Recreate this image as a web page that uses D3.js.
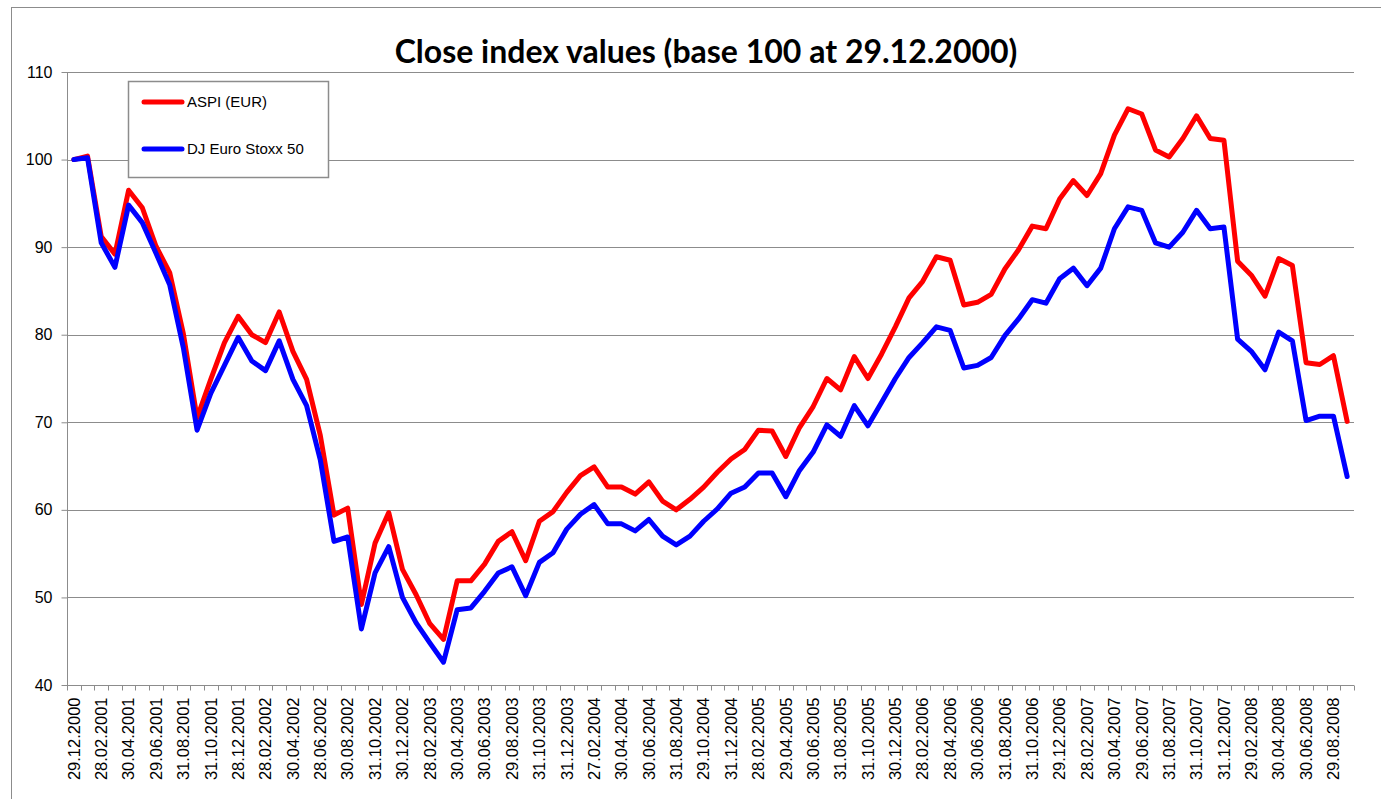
<!DOCTYPE html>
<html>
<head>
<meta charset="utf-8">
<script src="https://cdn.jsdelivr.net/npm/d3@7"></script>
<style>
  html, body { margin: 0; padding: 0; background: #fff; }
  svg { display: block; }
</style>
</head>
<body>
<svg id="chart" width="1381" height="799"></svg>
<script>
const dates = [
  "29.12.2000",
  "31.01.2001","28.02.2001","30.03.2001","30.04.2001","31.05.2001","29.06.2001","31.07.2001","31.08.2001","28.09.2001","31.10.2001","30.11.2001","28.12.2001",
  "31.01.2002","28.02.2002","29.03.2002","30.04.2002","31.05.2002","28.06.2002","31.07.2002","30.08.2002","30.09.2002","31.10.2002","29.11.2002","30.12.2002",
  "31.01.2003","28.02.2003","31.03.2003","30.04.2003","30.05.2003","30.06.2003","31.07.2003","29.08.2003","30.09.2003","31.10.2003","28.11.2003","31.12.2003",
  "30.01.2004","27.02.2004","31.03.2004","30.04.2004","31.05.2004","30.06.2004","30.07.2004","31.08.2004","30.09.2004","29.10.2004","30.11.2004","31.12.2004",
  "31.01.2005","28.02.2005","31.03.2005","29.04.2005","31.05.2005","30.06.2005","29.07.2005","31.08.2005","30.09.2005","31.10.2005","30.11.2005","30.12.2005",
  "31.01.2006","28.02.2006","31.03.2006","28.04.2006","31.05.2006","30.06.2006","31.07.2006","31.08.2006","29.09.2006","31.10.2006","30.11.2006","29.12.2006",
  "31.01.2007","28.02.2007","30.03.2007","30.04.2007","31.05.2007","29.06.2007","31.07.2007","31.08.2007","28.09.2007","31.10.2007","30.11.2007","31.12.2007",
  "31.01.2008","29.02.2008","31.03.2008","30.04.2008","30.05.2008","30.06.2008","31.07.2008","29.08.2008","30.09.2008"
];

const aspi = [
  100, 100.4, 91.2, 89.2, 96.5, 94.5, 90.1, 87.1, 80.1, 70.5, 74.9, 79.1, 82.1, 80.0, 79.1, 82.6, 78.1, 74.9, 68.5, 59.4, 60.2, 49.2, 56.2, 59.7,
  53.2, 50.3, 47.0, 45.2, 51.9, 51.9, 53.8, 56.4, 57.5, 54.2, 58.7, 59.8, 62.0, 63.9, 64.9, 62.6, 62.6, 61.8, 63.2, 61.0, 60.0, 61.2, 62.6,
  64.3, 65.8, 66.9, 69.1, 69.0, 66.1, 69.4, 71.8, 75.0, 73.7, 77.5, 75.0, 77.8, 80.9, 84.2, 86.1, 88.9, 88.5, 83.4, 83.7, 84.6, 87.5, 89.7,
  92.4, 92.1, 95.5, 97.6, 95.9, 98.4, 102.8, 105.8, 105.2, 101.1, 100.3, 102.4, 105.0, 102.4, 102.2, 88.4, 86.8, 84.4, 88.7, 87.9, 76.8, 76.6, 77.6, 70.1
];

const stoxx = [
  100, 100.2, 90.5, 87.7, 94.8, 92.8, 89.3, 85.7, 78.5, 69.1, 73.3, 76.5, 79.7, 77.0, 75.9, 79.3, 74.9, 71.9, 65.7, 56.4, 56.9, 46.4, 52.8, 55.8,
  50.0, 47.1, 44.8, 42.6, 48.6, 48.8, 50.7, 52.8, 53.5, 50.2, 54.0, 55.1, 57.8, 59.5, 60.6, 58.4, 58.4, 57.6, 58.9, 57.0, 56.0, 57.0, 58.7,
  60.1, 61.9, 62.6, 64.2, 64.2, 61.5, 64.5, 66.6, 69.7, 68.4, 71.9, 69.6, 72.3, 75.0, 77.4, 79.1, 80.9, 80.5, 76.2, 76.5, 77.4, 79.9, 81.8,
  84.0, 83.6, 86.4, 87.6, 85.6, 87.6, 92.1, 94.6, 94.2, 90.5, 90.0, 91.7, 94.2, 92.1, 92.3, 79.5, 78.1, 76.0, 80.3, 79.3, 70.2, 70.7, 70.7, 63.8
];

const seriesNames = ["ASPI (EUR)", "DJ Euro Stoxx 50"];
const yTicks = [40, 50, 60, 70, 80, 90, 100, 110];
const titleText = "Close index values (base 100 at 29.12.2000)";

(function () {
const svg = d3.select("#chart");
const pLeft = 67, pRight = 1354, pTop = 72, pBottom = 685;

// outer chart-area border
svg.append("rect")
  .attr("x", 11.5).attr("y", 7.5).attr("width", 1400).attr("height", 820)
  .attr("fill", "none").attr("stroke", "#8c8c8c").attr("stroke-width", 1);

const x = d3.scaleBand().domain(d3.range(dates.length)).range([pLeft, pRight]).paddingInner(0).paddingOuter(0);
const xc = i => x(i) + x.bandwidth() / 2;
const y = d3.scaleLinear().domain([40, 110]).range([pBottom, pTop]);

// gridlines
svg.append("g").selectAll("line").data(yTicks.filter(t => t > 40)).join("line")
  .attr("x1", pLeft).attr("x2", pRight)
  .attr("y1", d => Math.round(y(d)) + 0.5).attr("y2", d => Math.round(y(d)) + 0.5)
  .attr("stroke", "#8c8c8c").attr("stroke-width", 1);

// y axis
const yAxis = svg.append("g").attr("transform", `translate(${pLeft + 0.5},0)`)
  .call(d3.axisLeft(y).tickValues(yTicks).tickSize(6).tickPadding(9).tickFormat(d3.format("d")));
yAxis.selectAll("path, line").attr("stroke", "#8c8c8c");
yAxis.select(".domain").attr("d", `M0,${pTop}V${pBottom}`);
yAxis.selectAll("text").attr("font-family", "Liberation Sans, Arial, sans-serif").attr("font-size", "16px").attr("fill", "#000");

// x axis
const xAxisG = svg.append("g").attr("transform", `translate(0,${pBottom + 0.5})`);
xAxisG.append("line").attr("x1", pLeft).attr("x2", pRight).attr("stroke", "#8c8c8c");
const boundaries = d3.range(dates.length + 1).map(i => i < dates.length ? x(i) : x(dates.length - 1) + x.bandwidth());
xAxisG.selectAll("line.tick").data(boundaries).join("line").attr("class", "tick")
  .attr("x1", d => Math.round(d) + 0.5).attr("x2", d => Math.round(d) + 0.5)
  .attr("y1", 0).attr("y2", 5).attr("stroke", "#8c8c8c");
xAxisG.selectAll("text").data(d3.range(0, dates.length, 2)).join("text")
  .attr("transform", i => `translate(${xc(i)},12) rotate(-90)`)
  .attr("text-anchor", "end").attr("dy", "0.35em")
  .attr("font-family", "Liberation Sans, Arial, sans-serif").attr("font-size", "16.5px").attr("fill", "#000")
  .text(i => dates[i]);

// lines
const line = d3.line().x((d, i) => xc(i)).y(d => y(d)).curve(d3.curveLinear);
svg.append("path").datum(aspi).attr("d", line).attr("fill", "none")
  .attr("stroke", "#ff0000").attr("stroke-width", 5).attr("stroke-linejoin", "round").attr("stroke-linecap", "round");
svg.append("path").datum(stoxx).attr("d", line).attr("fill", "none")
  .attr("stroke", "#0000ff").attr("stroke-width", 5).attr("stroke-linejoin", "round").attr("stroke-linecap", "round");

// legend
const lg = svg.append("g");
lg.append("rect").attr("x", 128.5).attr("y", 81.5).attr("width", 200).attr("height", 96)
  .attr("fill", "#fff").attr("stroke", "#8c8c8c").attr("stroke-width", 1.5);
const legendColors = ["#ff0000", "#0000ff"];
const legendY = [102, 149];
seriesNames.forEach((n, k) => {
  lg.append("line").attr("x1", 144).attr("x2", 182).attr("y1", legendY[k]).attr("y2", legendY[k])
    .attr("stroke", legendColors[k]).attr("stroke-width", 5).attr("stroke-linecap", "round");
  lg.append("text").attr("x", 187).attr("y", legendY[k]).attr("dy", "0.35em")
    .attr("font-family", "Liberation Sans, Arial, sans-serif").attr("font-size", "15px").attr("fill", "#000")
    .text(n);
});

// title
const title = svg.append("text").attr("x", 706).attr("y", 63).attr("text-anchor", "middle")
  .attr("font-family", "Lato, 'Open Sans', sans-serif").attr("font-weight", "bold")
  .attr("font-size", "28px").attr("fill", "#000").text(titleText);
const w = title.node().getComputedTextLength();
title.attr("font-size", (28 * 623 / w).toFixed(2) + "px");
})();
</script>
</body>
</html>
